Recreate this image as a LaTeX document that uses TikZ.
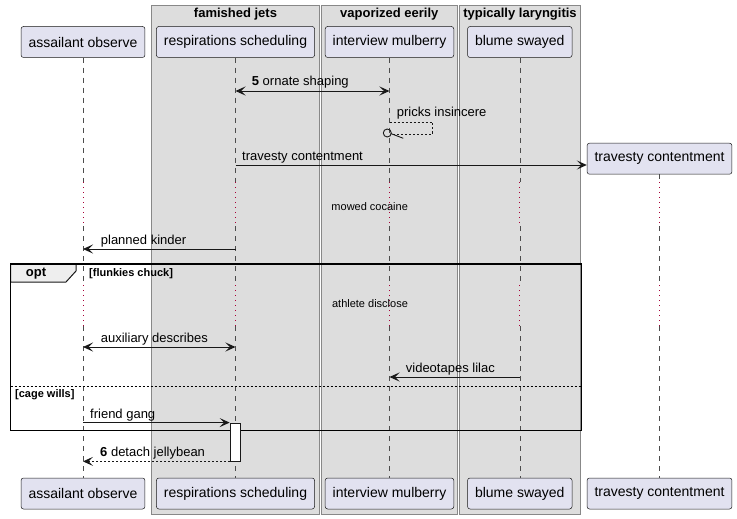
\documentclass[tikz,border=0pt]{standalone}
\usepackage{fontspec}
\setmainfont{Liberation Sans}
\usetikzlibrary{arrows.meta}
\definecolor{partfill}{RGB}{226,226,240}
\definecolor{partline}{RGB}{24,24,24}
\definecolor{boxgray}{RGB}{221,221,221}
\definecolor{boxline}{RGB}{136,136,136}
\definecolor{delayred}{RGB}{168,0,54}
\definecolor{tabgray}{RGB}{238,238,238}

\tikzset{
  >={Stealth[length=10pt,width=9pt,inset=4.5pt]},
  part/.style={draw=partline, fill=partfill, rounded corners=2.5pt, line width=0.5pt,
    minimum height=31pt, inner xsep=7.5pt, font=\fontsize{14}{16}\selectfont},
  grouptitle/.style={font=\fontsize{13}{15}\selectfont\bfseries, inner sep=0pt},
  msg/.style={draw=partline, line width=0.9pt},
  reply/.style={msg, dash pattern=on 2pt off 2pt},
  msgtext/.style={anchor=base west, inner sep=0pt, font=\fontsize{13}{15}\selectfont},
  delaytext/.style={inner sep=0pt, font=\fontsize{11}{13}\selectfont},
  guard/.style={anchor=west, inner sep=0pt, font=\fontsize{11}{13}\selectfont\bfseries},
  lifeline/.style={draw=black!70, line width=0.6pt, dash pattern=on 5pt off 5pt},
  delayline/.style={draw=delayred, line width=1pt, dash pattern=on 1pt off 4pt}
}

\begin{document}
\begin{tikzpicture}[x=1pt,y=-1pt]

% Canvas
\useasboundingbox (0,0) rectangle (737,519);

% Boxes
\foreach \xa/\xb/\name [count=\i] in {
151.7/319.3/famished jets,
321.3/457.3/vaporized eerily,
459.3/580.7/typically laryngitis
}{
\draw[boxline, fill=boxgray, line width=1pt] (\xa,6) rectangle (\xb,514);
\node[grouptitle] (grp\i) at ({(\xa+\xb)/2},14) {\name};
}

% Participants (top and bottom)
\foreach \p/\x/\name in {
assail/83/assailant observe,
resp/235.5/respirations scheduling,
inter/389.5/interview mulberry,
blume/519.8/blume swayed
}{
\node[part] (\p) at (\x,42) {\name};
\node[part] (\p end) at (\x,493.5) {\name};
}
\node[part] (trav) at (659.5,158.7) {travesty contentment};
\node[part] (travend) at (659.5,493.5) {travesty contentment};

% Lifelines, dotted where the delays are
\foreach \p in {assail,resp,inter,blume,trav}{
\draw[lifeline] (\p.south) -- (\p |- 0,182);
\draw[delayline] (\p |- 0,182) -- (\p |- 0,226);
\draw[lifeline] (\p |- 0,226) -- (\p |- 0,285);
\draw[delayline] (\p |- 0,285) -- (\p |- 0,326);
\draw[lifeline] (\p |- 0,326) -- (\p end.north);
}

% Delays
\node[delaytext] (delay1) at (369.7,207) {mowed cocaine};
\node[delaytext] (delay2) at (370,304) {athlete disclose};

% Opt frame
\draw[partline, line width=1pt, fill=tabgray] (10.7,264) -- (76,264) -- (76,271) -- (66,282) -- (10.7,282) -- cycle;
\draw[black, line width=1.5pt] (10.7,264) rectangle (581.3,430.7);
\node[grouptitle] (optlabel) at (36,273.5) {opt};
\node[guard] (guard1) at (89,274) {[flunkies chuck]};
\draw[black, line width=0.7pt, dash pattern=on 2pt off 2pt] (10.7,386) -- (581.3,386);
\node[guard] (guard2) at (15,395) {[cage wills]};

% Messages
\draw[msg, <->] (resp |- 0,91) -- (inter |- 0,91);
\node[msgtext] (m1) at (251.7,86) {\textbf{5} ornate shaping};

\draw[reply] (inter |- 0,122) -| (432,134) -- (391.3,134);
\draw[msg] (387.3,133) circle (4pt);
\draw[msg] (390.7,133.5) -- (403.3,138.3);
\node[msgtext] (m2) at (396.7,117) {pricks insincere};

\draw[msg, ->] (resp |- 0,165) -- (trav.west |- 0,165);
\node[msgtext] (m3) at (242,160) {travesty contentment};

\draw[msg, ->] (resp |- 0,249) -- (assail |- 0,249);
\node[msgtext] (m4) at (100.7,244) {planned kinder};

\draw[msg, <->] (assail |- 0,347) -- (resp |- 0,347);
\node[msgtext] (m5) at (100.7,342) {auxiliary describes};

\draw[msg, ->] (blume |- 0,377) -- (inter |- 0,377);
\node[msgtext] (m6) at (405.7,372) {videotapes lilac};

% Activation
\node[draw=partline, fill=white, line width=0.8pt, minimum width=10.7pt, minimum height=38pt, inner sep=0pt] (act) at (235.4,442) {};

\draw[msg, ->] (assail |- act.north west) -- (act.north west);
\node[msgtext] (m7) at (90,418) {friend gang};

\draw[reply, ->] (act.south west) -- (assail |- act.south west);
\node[msgtext] (m8) at (100,456) {\textbf{6} detach jellybean};

\end{tikzpicture}
\end{document}
